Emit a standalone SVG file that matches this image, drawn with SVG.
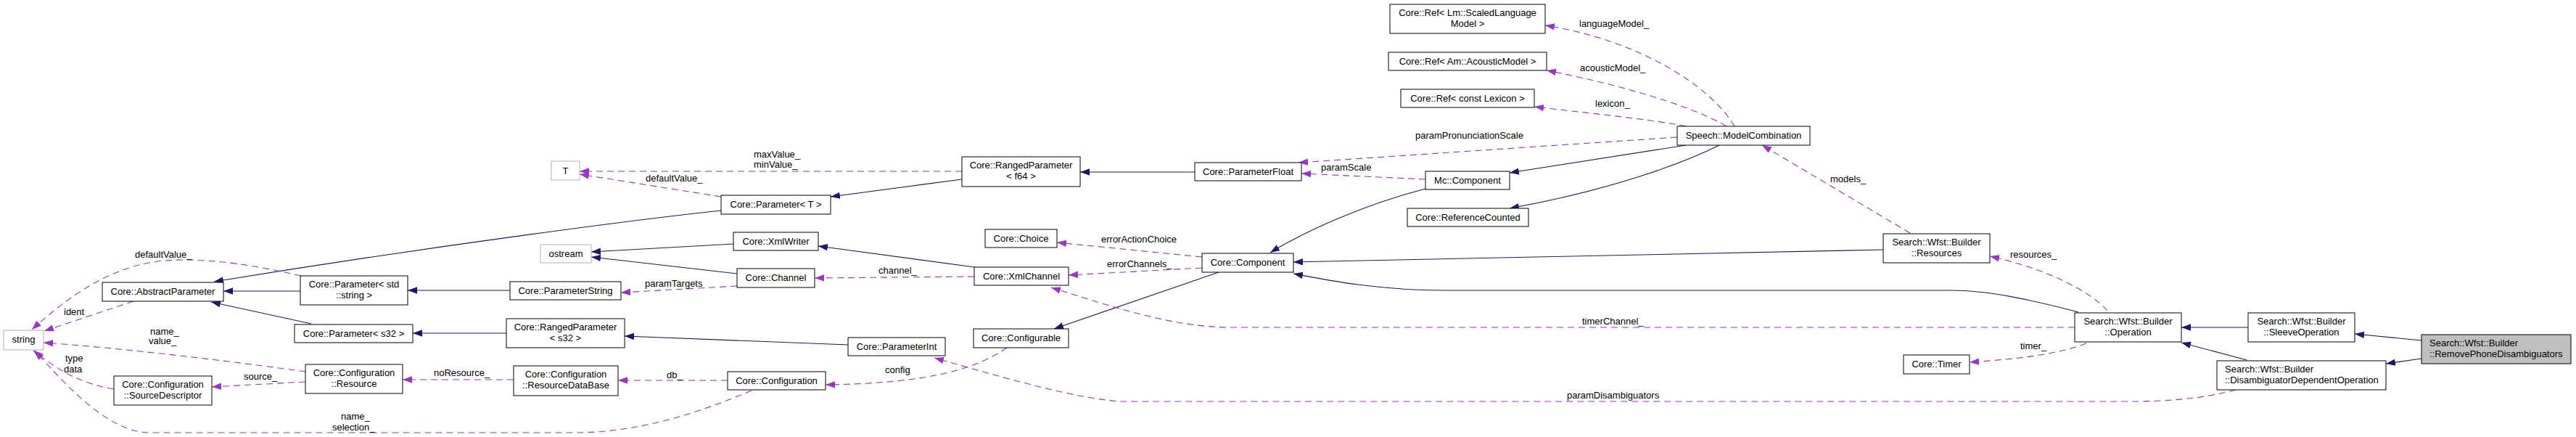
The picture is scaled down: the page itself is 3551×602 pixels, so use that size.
<svg xmlns="http://www.w3.org/2000/svg" width="3551" height="602" viewBox="0 0 3551 602">
<style>
text{font-family:"Liberation Sans",Arial,sans-serif;font-size:13px;fill:#000}
.n rect{fill:#fff;stroke:#000;stroke-width:1}
.g rect{fill:#fff;stroke:#bfbfbf;stroke-width:1.2}
.cur rect{fill:#bfbfbf;stroke:#000;stroke-width:1}
.c{text-anchor:middle}
.inh{fill:none;stroke:#191970;stroke-width:1.1;marker-end:url(#ai)}
.use{fill:none;stroke:#9a32cd;stroke-width:1.1;stroke-dasharray:9,6;marker-end:url(#au)}
</style>
<defs>
<marker id="ai" markerUnits="userSpaceOnUse" markerWidth="14" markerHeight="10" refX="13" refY="4.7" orient="auto"><path d="M0,0 L13,4.7 L0,9.4 z" fill="#191970"/></marker>
<marker id="au" markerUnits="userSpaceOnUse" markerWidth="14" markerHeight="10" refX="13" refY="4.7" orient="auto"><path d="M0,0 L13,4.7 L0,9.4 z" fill="#9a32cd"/></marker>
</defs>
<rect width="3551" height="602" fill="#fff"/>
<g id="edges">
<path class="inh" d="M994,290 C900,300 620,335 295,388"/>
<path class="inh" d="M414,401 L308,401"/>
<path class="inh" d="M429,446 L291,416"/>
<path class="inh" d="M1326,247 L1145,271"/>
<path class="inh" d="M1647,237 L1489,237"/>
<path class="inh" d="M703,400 L562,400"/>
<path class="inh" d="M698,459 L569,459"/>
<path class="inh" d="M1169,475 L861,463"/>
<path class="inh" d="M1011,336 L815,347"/>
<path class="inh" d="M1016,377 L815,354"/>
<path class="inh" d="M1343,368 L1128,339"/>
<path class="inh" d="M1965,260 C1880,282 1800,318 1751,348"/>
<path class="inh" d="M2324,200 L2081,238"/>
<path class="inh" d="M2370,200 C2320,225 2220,262 2081,287"/>
<path class="inh" d="M1680,375 L1453,453"/>
<path class="inh" d="M2596,344 L1783,361"/>
<path class="inh" d="M2865,430 C2800,413 2740,400 2691,400 L1991,400 C1900,400 1830,386 1783,377"/>
<path class="inh" d="M3099,451 L3007,451"/>
<path class="inh" d="M3097,496 L3007,472"/>
<path class="inh" d="M3338,469 L3246,460"/>
<path class="inh" d="M3338,494 L3289,501"/>
<path class="use" d="M1326,236 L799,236"/>
<path class="use" d="M994,271 L799,240"/>
<path class="use" d="M2312,189 L1790,224"/>
<path class="use" d="M1965,247 L1794,239"/>
<path class="use" d="M2391,174 C2360,120 2260,55 2130,35"/>
<path class="use" d="M2380,174 C2340,150 2250,120 2132,97"/>
<path class="use" d="M2324,174 C2280,165 2200,157 2115,147"/>
<path class="use" d="M2633,321 L2429,200"/>
<path class="use" d="M415,380 C350,365 300,358 250,358 C180,358 120,385 44,454"/>
<path class="use" d="M184,415 L61,456"/>
<path class="use" d="M421,512 C300,495 150,478 60,472"/>
<path class="use" d="M157,536 C110,528 80,510 46,483"/>
<path class="use" d="M421,526 L292,533"/>
<path class="use" d="M1036,538 C960,570 880,596 791,596 L206,596 C150,596 90,530 48,483"/>
<path class="use" d="M708,523 L555,523"/>
<path class="use" d="M1016,394 L856,403"/>
<path class="use" d="M1343,381 L1123,383"/>
<path class="use" d="M1657,354 L1457,334"/>
<path class="use" d="M1657,369 L1473,379"/>
<path class="use" d="M2860,451 L1697,451 C1620,451 1540,425 1449,396"/>
<path class="use" d="M3082,537 C3040,548 3000,552 2950,553 L1544,553 C1480,548 1400,525 1288,493"/>
<path class="use" d="M1388,479 C1350,505 1290,528 1138,530"/>
<path class="use" d="M1003,524 L852,524"/>
<path class="use" d="M2905,428 C2880,400 2820,370 2743,353"/>
<path class="use" d="M2876,473 C2840,487 2790,494 2715,499"/>
<text x="1039" y="217">maxValue_</text>
<text x="1039" y="231">minValue_</text>
<text x="890" y="250">defaultValue_</text>
<text x="1951" y="191">paramPronunciationScale</text>
<text x="1821" y="235">paramScale</text>
<text x="2177" y="37">languageModel_</text>
<text x="2178" y="98">acousticModel_</text>
<text x="2199" y="147">lexicon_</text>
<text x="2523" y="251">models_</text>
<text x="186" y="355">defaultValue_</text>
<text x="88" y="434">ident</text>
<text x="207" y="461">name_</text>
<text x="205" y="474">value_</text>
<text x="90" y="498">type</text>
<text x="88" y="513">data</text>
<text x="336" y="523">source_</text>
<text x="470" y="578">name_</text>
<text x="458" y="593">selection_</text>
<text x="889" y="395">paramTargets</text>
<text x="598" y="518">noResource_</text>
<text x="919" y="521">db_</text>
<text x="1518" y="334">errorActionChoice</text>
<text x="1526" y="368">errorChannels_</text>
<text x="1211" y="377">channel_</text>
<text x="1220" y="514">config</text>
<text x="2181" y="447">timerChannel_</text>
<text x="2160" y="549">paramDisambiguators</text>
<text x="2771" y="355">resources_</text>
<text x="2785" y="481">timer_</text>
</g>
<g id="string" class="g"><rect x="5" y="455" width="55" height="27"/><text class="c" x="32.5" y="472">string</text></g>
<g id="T" class="g"><rect x="760" y="222" width="39" height="26"/><text class="c" x="779.5" y="240">T</text></g>
<g id="ostream" class="g"><rect x="745" y="337" width="70" height="25"/><text class="c" x="780" y="354">ostream</text></g>
<g id="AbstractParameter" class="n"><rect x="141" y="389" width="167" height="26"/><text class="c" x="224.5" y="406">Core::AbstractParameter</text></g>
<g id="ParameterStdString" class="n"><rect x="414" y="380" width="148" height="40"/><text class="c" x="488" y="396">Core::Parameter&lt; std</text><text class="c" x="488" y="411">::string &gt;</text></g>
<g id="ParameterS32" class="n"><rect x="406" y="447" width="163" height="25"/><text class="c" x="487.5" y="464">Core::Parameter&lt; s32 &gt;</text></g>
<g id="SourceDescriptor" class="n"><rect x="157" y="518" width="135" height="40"/><text class="c" x="224.5" y="534">Core::Configuration</text><text class="c" x="224.5" y="549">::SourceDescriptor</text></g>
<g id="Resource" class="n"><rect x="421" y="502" width="134" height="40"/><text class="c" x="488" y="518">Core::Configuration</text><text class="c" x="488" y="533">::Resource</text></g>
<g id="ParameterT" class="n"><rect x="994" y="269" width="151" height="26"/><text class="c" x="1069.5" y="286">Core::Parameter&lt; T &gt;</text></g>
<g id="RangedParameterF64" class="n"><rect x="1326" y="216" width="163" height="41"/><text class="c" x="1407.5" y="232">Core::RangedParameter</text><text class="c" x="1407.5" y="247">&lt; f64 &gt;</text></g>
<g id="ParameterFloat" class="n"><rect x="1647" y="224" width="147" height="25"/><text class="c" x="1720.5" y="241">Core::ParameterFloat</text></g>
<g id="RefLm" class="n"><rect x="1916" y="6" width="214" height="40"/><text class="c" x="2023" y="22">Core::Ref&lt; Lm::ScaledLanguage</text><text class="c" x="2023" y="37">Model &gt;</text></g>
<g id="RefAm" class="n"><rect x="1914" y="72" width="218" height="25"/><text class="c" x="2023" y="89">Core::Ref&lt; Am::AcousticModel &gt;</text></g>
<g id="RefLexicon" class="n"><rect x="1931" y="123" width="184" height="25"/><text class="c" x="2023" y="140">Core::Ref&lt; const Lexicon &gt;</text></g>
<g id="ModelCombination" class="n"><rect x="2312" y="174" width="183" height="26"/><text class="c" x="2403.5" y="191">Speech::ModelCombination</text></g>
<g id="McComponent" class="n"><rect x="1965" y="236" width="116" height="25"/><text class="c" x="2023" y="253">Mc::Component</text></g>
<g id="ReferenceCounted" class="n"><rect x="1940" y="287" width="167" height="25"/><text class="c" x="2023.5" y="304">Core::ReferenceCounted</text></g>
<g id="XmlWriter" class="n"><rect x="1011" y="320" width="117" height="25"/><text class="c" x="1069.5" y="337">Core::XmlWriter</text></g>
<g id="Channel" class="n"><rect x="1016" y="370" width="107" height="26"/><text class="c" x="1069.5" y="387">Core::Channel</text></g>
<g id="ParameterString" class="n"><rect x="703" y="388" width="153" height="25"/><text class="c" x="779.5" y="405">Core::ParameterString</text></g>
<g id="RangedParameterS32" class="n"><rect x="698" y="439" width="163" height="40"/><text class="c" x="779.5" y="455">Core::RangedParameter</text><text class="c" x="779.5" y="470">&lt; s32 &gt;</text></g>
<g id="ResourceDataBase" class="n"><rect x="708" y="504" width="144" height="41"/><text class="c" x="780" y="520">Core::Configuration</text><text class="c" x="780" y="535">::ResourceDataBase</text></g>
<g id="Configuration" class="n"><rect x="1003" y="512" width="135" height="25"/><text class="c" x="1070.5" y="529">Core::Configuration</text></g>
<g id="ParameterInt" class="n"><rect x="1169" y="465" width="134" height="25"/><text class="c" x="1236" y="482">Core::ParameterInt</text></g>
<g id="Choice" class="n"><rect x="1358" y="316" width="99" height="25"/><text class="c" x="1407.5" y="333">Core::Choice</text></g>
<g id="XmlChannel" class="n"><rect x="1343" y="368" width="130" height="25"/><text class="c" x="1408" y="385">Core::XmlChannel</text></g>
<g id="CoreComponent" class="n"><rect x="1657" y="349" width="126" height="26"/><text class="c" x="1720" y="366">Core::Component</text></g>
<g id="Configurable" class="n"><rect x="1342" y="453" width="131" height="26"/><text class="c" x="1407.5" y="470">Core::Configurable</text></g>
<g id="Resources" class="n"><rect x="2596" y="322" width="147" height="40"/><text class="c" x="2669.5" y="338">Search::Wfst::Builder</text><text class="c" x="2669.5" y="353">::Resources</text></g>
<g id="Operation" class="n"><rect x="2860" y="431" width="147" height="40"/><text class="c" x="2933.5" y="447">Search::Wfst::Builder</text><text class="c" x="2933.5" y="462">::Operation</text></g>
<g id="Timer" class="n"><rect x="2624" y="489" width="91" height="26"/><text class="c" x="2669.5" y="506">Core::Timer</text></g>
<g id="SleeveOperation" class="n"><rect x="3099" y="431" width="147" height="40"/><text class="c" x="3172.5" y="447">Search::Wfst::Builder</text><text class="c" x="3172.5" y="462">::SleeveOperation</text></g>
<g id="DisambiguatorDependentOperation" class="n"><rect x="3056" y="497" width="233" height="40"/><text x="3067" y="513">Search::Wfst::Builder</text><text x="3067" y="528">::DisambiguatorDependentOperation</text></g>
<g id="RemovePhoneDisambiguators" class="cur"><rect x="3338" y="461" width="206" height="40"/><text x="3349" y="477">Search::Wfst::Builder</text><text x="3349" y="492">::RemovePhoneDisambiguators</text></g>
</svg>
